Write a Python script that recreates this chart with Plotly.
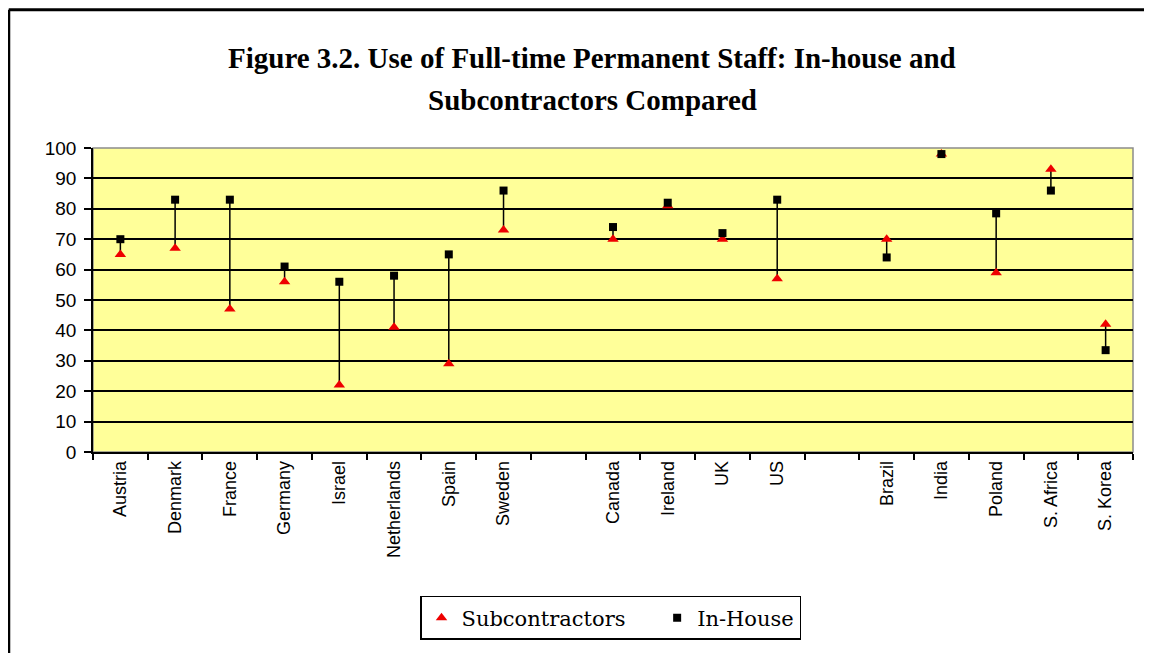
import plotly.graph_objects as go

# categories (blank entries are the gaps between country groups)
countries = ["Austria", "Denmark", "France", "Germany", "Israel", "Netherlands",
             "Spain", "Sweden", " ", "Canada", "Ireland", "UK", "US", "  ",
             "Brazil", "India", "Poland", "S. Africa", "S. Korea"]

subcontractors = [65, 67, 47, 56, 22, 41, 29, 73, None, 70, 81, 70, 57, None,
                  70, 98, 59, 93, 42]
in_house = [70, 83, 83, 61, 56, 58, 65, 86, None, 74, 82, 72, 83, None,
            64, 98, 78.5, 86, 33.5]

title_lines = ["Figure 3.2. Use of Full-time Permanent Staff: In-house and",
               "Subcontractors Compared"]

# high-low connector lines built from the two series
line_x, line_y = [], []
for c, s, h in zip(countries, subcontractors, in_house):
    if s is None or h is None:
        continue
    line_x += [c, c, None]
    line_y += [s, h, None]

fig = go.Figure()

fig.add_trace(go.Scatter(x=line_x, y=line_y, mode="lines",
                         line=dict(color="black", width=1.5),
                         showlegend=False, hoverinfo="skip"))

# trailing non-breaking spaces widen the gap between the two legend entries
fig.add_trace(go.Scatter(x=countries, y=subcontractors, mode="markers",
                         name="Subcontractors" + "\u00a0" * 4,
                         marker=dict(symbol="triangle-up", size=10, color="#ee0000",
                                     line=dict(width=0))))

fig.add_trace(go.Scatter(x=countries, y=in_house, mode="markers",
                         name="In-House",
                         marker=dict(symbol="square", size=8, color="black",
                                     line=dict(width=0))))

# outer chart border (top and left edge)
fig.add_shape(type="line", xref="paper", yref="paper",
              x0=-0.081, x1=1.03, y0=1.455, y1=1.455,
              line=dict(color="black", width=3))
fig.add_shape(type="line", xref="paper", yref="paper",
              x0=-0.081, x1=-0.081, y0=1.455, y1=-0.7,
              line=dict(color="black", width=3))
# plot area frame
fig.add_shape(type="rect", xref="paper", yref="paper",
              x0=0, x1=1, y0=0, y1=1,
              line=dict(color="#8c8c8c", width=1.5), layer="below")

# two-line title
for txt, ty in zip(title_lines, [1.296, 1.158]):
    fig.add_annotation(text="<b>" + txt + "</b>", xref="paper", yref="paper",
                       x=0.48, y=ty, xanchor="center", yanchor="middle",
                       showarrow=False,
                       font=dict(family="Liberation Serif", size=29, color="black"))

fig.update_layout(
    width=1144, height=645,
    margin=dict(l=85, r=19, t=140, b=201),
    paper_bgcolor="white",
    plot_bgcolor="#ffff99",
    legend=dict(orientation="h", x=0.4976, xanchor="center", y=-0.546, yanchor="middle",
                bordercolor="black", borderwidth=1.5, bgcolor="white",
                font=dict(family="DejaVu Serif", size=21, color="black"),
                itemwidth=30, traceorder="normal"),
    xaxis=dict(type="category", categoryorder="array", categoryarray=countries,
               range=[-0.5, len(countries) - 0.5],
               tickangle=-90, tickson="boundaries", ticks="outside", ticklen=6,
               tickcolor="black", tickwidth=1.5,
               showline=True, linecolor="black", linewidth=1.5,
               showgrid=False, zeroline=False,
               tickfont=dict(family="Liberation Sans", size=18, color="black")),
    yaxis=dict(range=[0, 100], dtick=10, ticks="outside", ticklen=7,
               tickcolor="black", tickwidth=1.5, ticklabelstandoff=4,
               showline=True, linecolor="black", linewidth=1.5,
               showgrid=True, gridcolor="black", gridwidth=1.5, zeroline=False,
               tickfont=dict(family="Liberation Sans", size=19, color="black")),
)

fig.write_html("out.html")
